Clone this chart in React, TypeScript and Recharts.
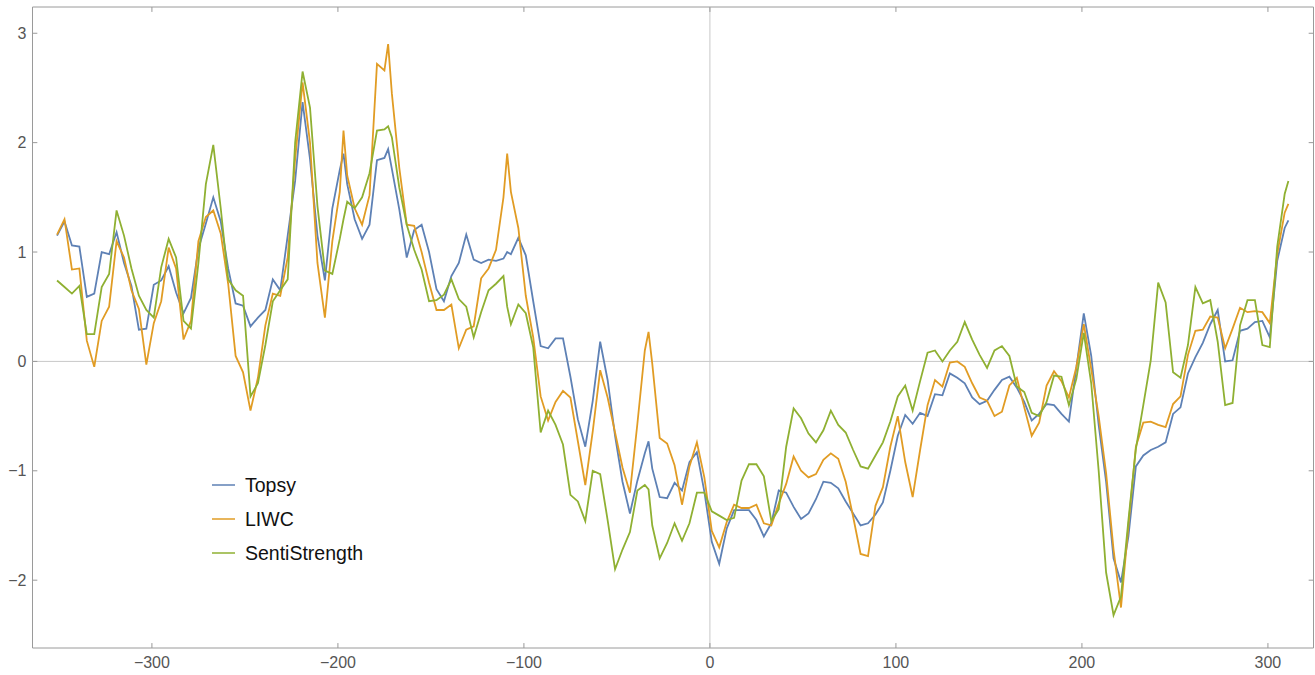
import React from 'react';
import { LineChart, Line, XAxis, YAxis, ReferenceLine, ReferenceArea, Legend } from 'recharts';

const xValues = [
  -351, -347, -343, -339, -335, -331, -327, -323, -319, -315,
  -311, -307, -303, -299, -295, -291, -287, -283, -279, -275,
  -271, -267, -263, -259, -255, -251, -247, -243, -239, -235,
  -231, -227, -223, -219, -215, -211, -207, -203, -199, -197, -195,
  -191, -187, -183, -179, -175, -173, -171, -167, -163, -159, -155,
  -151, -147, -143, -139, -135, -131, -127, -123, -119, -115,
  -111, -109, -107, -103, -99, -95, -91, -87, -83, -79, -75,
  -71, -67, -63, -59, -55, -51, -47, -43, -39, -35, -33,
  -31, -27, -23, -19, -15, -11, -7, -3, 1, 5,
  9, 13, 17, 21, 25, 29, 33, 37, 41, 45,
  49, 53, 57, 61, 65, 69, 73, 77, 81, 85,
  89, 93, 97, 101, 105, 109, 113, 117, 121, 125,
  129, 133, 137, 141, 145, 149, 153, 157, 161, 165,
  169, 173, 177, 181, 185, 189, 193, 197, 201, 205,
  209, 213, 217, 221, 225, 229, 233, 237, 241, 245,
  249, 253, 257, 261, 265, 269, 273, 277, 281, 285,
  289, 293, 297, 301, 305, 309, 311,
];

const topsy = [
  1.15, 1.28, 1.06, 1.05, 0.59, 0.62, 1.0, 0.98, 1.18, 0.9,
  0.69, 0.29, 0.3, 0.7, 0.74, 0.87, 0.63, 0.44, 0.58, 1.03,
  1.26, 1.5, 1.28, 0.85, 0.53, 0.51, 0.32, 0.4, 0.47, 0.75,
  0.65, 1.15, 1.65, 2.37, 1.85, 1.15, 0.74, 1.4, 1.75, 1.9, 1.62,
  1.3, 1.12, 1.25, 1.84, 1.86, 1.94, 1.76, 1.39, 0.95, 1.2, 1.25,
  1.0, 0.66, 0.55, 0.78, 0.9, 1.16, 0.93, 0.9, 0.93, 0.92,
  0.94, 1.0, 0.98, 1.13, 0.97, 0.55, 0.14, 0.12, 0.21, 0.21, -0.14,
  -0.53, -0.78, -0.36, 0.18, -0.17, -0.68, -1.1, -1.39, -1.09, -0.84, -0.73,
  -0.98, -1.24, -1.25, -1.11, -1.18, -0.92, -0.83, -1.19, -1.65, -1.85,
  -1.53, -1.36, -1.36, -1.36, -1.45, -1.6, -1.48, -1.18, -1.2, -1.33,
  -1.44, -1.39, -1.26, -1.1, -1.11, -1.16, -1.28, -1.39, -1.5, -1.48,
  -1.4, -1.29, -1.0, -0.68, -0.49, -0.57, -0.47, -0.5, -0.3, -0.31,
  -0.11, -0.15, -0.2, -0.33, -0.39, -0.36, -0.26, -0.17, -0.14, -0.24,
  -0.37, -0.54, -0.48, -0.39, -0.4, -0.48, -0.55, -0.06, 0.44, 0.05,
  -0.58, -1.1, -1.8, -2.02, -1.6, -0.96, -0.86, -0.81, -0.78, -0.74,
  -0.48, -0.42, -0.11, 0.04, 0.17, 0.34, 0.47, 0.0, 0.01, 0.28,
  0.3, 0.36, 0.37, 0.22, 0.92, 1.22, 1.29,
];

const liwc = [
  1.16, 1.3, 0.84, 0.85, 0.19, -0.05, 0.37, 0.5, 1.1, 0.95,
  0.65, 0.48, -0.03, 0.35, 0.55, 1.04, 0.85, 0.2, 0.37, 1.1,
  1.32, 1.38, 1.17, 0.71, 0.05, -0.1, -0.45, -0.15, 0.33, 0.62,
  0.6, 0.95, 1.85, 2.55, 2.0, 0.9, 0.4, 1.1, 1.55, 2.11, 1.7,
  1.4, 1.25, 1.52, 2.72, 2.66, 2.9, 2.45, 1.77, 1.25, 1.24, 1.0,
  0.72, 0.47, 0.47, 0.52, 0.12, 0.29, 0.32, 0.76, 0.85, 1.02,
  1.5, 1.9, 1.55, 1.22, 0.6, 0.22, -0.32, -0.54, -0.37, -0.27, -0.33,
  -0.73, -1.13, -0.64, -0.08, -0.33, -0.65, -0.97, -1.2, -0.57, 0.1, 0.27,
  -0.02, -0.7, -0.75, -0.95, -1.31, -0.96, -0.74, -1.06, -1.55, -1.7,
  -1.47, -1.31, -1.34, -1.34, -1.31, -1.48, -1.5, -1.3, -1.12, -0.87,
  -1.0, -1.06, -1.03, -0.9, -0.84, -0.89, -1.1, -1.42, -1.76, -1.78,
  -1.32, -1.15, -0.78, -0.5, -0.92, -1.24, -0.81, -0.4, -0.17, -0.23,
  -0.01, 0.0, -0.05, -0.2, -0.33, -0.36, -0.5, -0.46, -0.22, -0.15,
  -0.42, -0.68, -0.56, -0.22, -0.09, -0.18, -0.33, -0.05, 0.34, -0.07,
  -0.5, -1.02, -1.72, -2.25, -1.5, -0.78, -0.56, -0.55, -0.58, -0.6,
  -0.39, -0.32, 0.06, 0.28, 0.29, 0.41, 0.4, 0.12, 0.3, 0.49,
  0.45, 0.46, 0.45, 0.35, 0.98, 1.36, 1.44,
];

const sentiStrength = [
  0.74, 0.68, 0.62, 0.69, 0.25, 0.25, 0.68, 0.8, 1.38, 1.15,
  0.85, 0.6, 0.47, 0.4, 0.86, 1.12, 0.95, 0.37, 0.3, 0.9,
  1.62, 1.98, 1.4, 0.75, 0.65, 0.6, -0.32, -0.2, 0.15, 0.55,
  0.65, 0.75, 2.0, 2.65, 2.32, 1.42, 0.83, 0.8, 1.12, 1.3, 1.46,
  1.4, 1.5, 1.72, 2.11, 2.12, 2.15, 2.05, 1.59, 1.25, 1.02, 0.84,
  0.55, 0.56, 0.61, 0.75, 0.57, 0.5, 0.22, 0.45, 0.65, 0.71,
  0.78, 0.5, 0.34, 0.52, 0.44, 0.13, -0.65, -0.45, -0.58, -0.76, -1.22,
  -1.28, -1.46, -1.0, -1.03, -1.45, -1.9, -1.72, -1.56, -1.18, -1.13, -1.17,
  -1.5, -1.8, -1.66, -1.48, -1.64, -1.48, -1.2, -1.2, -1.37, -1.41,
  -1.45, -1.43, -1.09, -0.94, -0.94, -1.05, -1.46, -1.35, -0.78, -0.43,
  -0.52, -0.66, -0.74, -0.63, -0.45, -0.58, -0.65, -0.81, -0.96, -0.98,
  -0.86, -0.74, -0.55, -0.32, -0.22, -0.45, -0.18, 0.08, 0.1, 0.0,
  0.1, 0.18, 0.36, 0.2, 0.06, -0.06, 0.1, 0.14, 0.05, -0.23,
  -0.28, -0.47, -0.5, -0.37, -0.13, -0.14, -0.4, -0.16, 0.26, -0.2,
  -1.0, -1.93, -2.32, -2.15, -1.45, -0.8, -0.4, 0.01, 0.72, 0.54,
  -0.1, -0.15, 0.15, 0.68, 0.53, 0.56, 0.18, -0.4, -0.38, 0.33,
  0.56, 0.56, 0.15, 0.13, 1.05, 1.53, 1.65,
];

const seriesNames = ['Topsy', 'LIWC', 'SentiStrength'];
const seriesValues = [topsy, liwc, sentiStrength];
const seriesColors = ['#5E81B5', '#E19C24', '#8FB032'];

const xTicks = [-300, -200, -100, 0, 100, 200, 300];
const yTicks = [-2, -1, 0, 1, 2, 3];

const X_DOMAIN: [number, number] = [-364.2, 324.5];
const Y_DOMAIN: [number, number] = [-2.62, 3.24];

const data = xValues.map((x, i) => {
  const row: Record<string, number> = { x };
  seriesNames.forEach((name, s) => {
    row[name] = seriesValues[s][i];
  });
  return row;
});

const fmt = (v: number) => (v < 0 ? '\u2212' + Math.abs(v) : String(v));

const FONT = '"Liberation Sans", Arial, Helvetica, sans-serif';
const tickStyle = { fill: '#555555', fontSize: 16, fontFamily: FONT };

const LegendContent = () => (
  <div style={{ fontFamily: FONT, fontSize: 19.5, color: '#111111' }}>
    {seriesNames.map((name, s) => (
      <div key={name} style={{ display: 'flex', alignItems: 'center', height: 34 }}>
        <svg width={23} height={4} style={{ display: 'block' }}>
          <line x1={0} y1={2} x2={23} y2={2} stroke={seriesColors[s]} strokeWidth={1.5} />
        </svg>
        <span style={{ marginLeft: 10, lineHeight: '34px' }}>{name}</span>
      </div>
    ))}
  </div>
);

// frame tick marks (inward), lengths in data units
const TX = 2.6;
const TY = 0.045;

export default function App() {
  return (
    <div style={{ position: 'absolute', left: 0, top: 0, width: 1315, height: 675, background: '#ffffff' }}>
      <LineChart
        width={1315}
        height={675}
        data={data}
        margin={{ top: 7, right: 1.5, bottom: 0, left: 0 }}
      >
        <XAxis
          dataKey="x"
          type="number"
          domain={X_DOMAIN}
          ticks={xTicks}
          interval={0}
          allowDataOverflow
          tickFormatter={fmt}
          tickLine={false}
          axisLine={false}
          tickSize={7}
          height={27}
          tick={tickStyle}
        />
        <YAxis
          type="number"
          domain={Y_DOMAIN}
          ticks={yTicks}
          interval={0}
          allowDataOverflow
          tickFormatter={fmt}
          tickLine={false}
          axisLine={false}
          tickSize={4}
          width={32.5}
          tick={tickStyle}
        />
        <ReferenceLine x={0} stroke="#c8c8c8" strokeWidth={1} />
        <ReferenceLine y={0} stroke="#c8c8c8" strokeWidth={1} />
        {xTicks.map((t) => (
          <ReferenceLine
            key={'xb' + t}
            segment={[{ x: t, y: Y_DOMAIN[0] }, { x: t, y: Y_DOMAIN[0] + TY }]}
            stroke="#999999"
          />
        ))}
        {xTicks.map((t) => (
          <ReferenceLine
            key={'xt' + t}
            segment={[{ x: t, y: Y_DOMAIN[1] }, { x: t, y: Y_DOMAIN[1] - TY }]}
            stroke="#999999"
          />
        ))}
        {yTicks.map((t) => (
          <ReferenceLine
            key={'yl' + t}
            segment={[{ x: X_DOMAIN[0], y: t }, { x: X_DOMAIN[0] + TX, y: t }]}
            stroke="#999999"
          />
        ))}
        {yTicks.map((t) => (
          <ReferenceLine
            key={'yr' + t}
            segment={[{ x: X_DOMAIN[1], y: t }, { x: X_DOMAIN[1] - TX, y: t }]}
            stroke="#999999"
          />
        ))}
        <ReferenceArea
          x1={X_DOMAIN[0]}
          x2={X_DOMAIN[1]}
          y1={Y_DOMAIN[0]}
          y2={Y_DOMAIN[1]}
          fill="none"
          fillOpacity={0}
          stroke="#9a9a9a"
          strokeWidth={1}
        />
        {seriesNames.map((name, s) => (
          <Line
            key={name}
            type="linear"
            dataKey={name}
            name={name}
            stroke={seriesColors[s]}
            strokeWidth={1.8}
            dot={false}
            activeDot={false}
            isAnimationActive={false}
          />
        ))}
        <Legend
          layout="vertical"
          align="center"
          verticalAlign="middle"
          content={<LegendContent />}
          wrapperStyle={{ position: 'absolute', left: 212, top: 468, width: 'auto', height: 'auto' }}
        />
      </LineChart>
    </div>
  );
}
